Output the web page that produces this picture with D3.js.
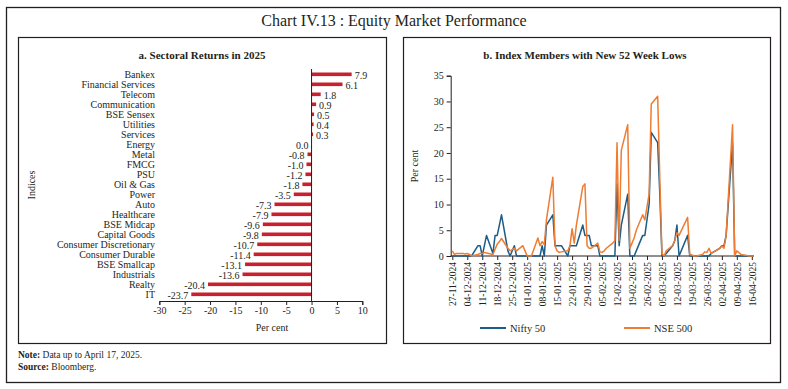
<!DOCTYPE html>
<html>
<head>
<meta charset="utf-8">
<script src="https://cdn.jsdelivr.net/npm/d3@7"></script>
<style>
  body { margin: 0; background: #fff; }
  text { font-family: "Liberation Serif", "DejaVu Serif", serif; fill: #231f20; }
</style>
</head>
<body>
<svg id="chart" width="788" height="389"></svg>
<script>
// panel a : sectoral returns in 2025 (per cent)
var sectors = ["Bankex", "Financial Services", "Telecom", "Communication", "BSE Sensex",
  "Utilities", "Services", "Energy", "Metal", "FMCG", "PSU", "Oil & Gas", "Power", "Auto",
  "Healthcare", "BSE Midcap", "Capital Goods", "Consumer Discretionary", "Consumer Durable",
  "BSE Smallcap", "Industrials", "Realty", "IT"];
var returns2025 = [7.9, 6.1, 1.8, 0.9, 0.5, 0.4, 0.3, 0.0, -0.8, -1.0, -1.2, -1.8, -3.5, -7.3,
  -7.9, -9.6, -9.8, -10.7, -11.4, -13.1, -13.6, -20.4, -23.7];
var returnTicks = [-30, -25, -20, -15, -10, -5, 0, 5, 10];

// panel b : index members with new 52 week lows (per cent)
var lowDates = ["27-11-2024", "28-11-2024", "29-11-2024", "02-12-2024", "03-12-2024", "04-12-2024",
  "05-12-2024", "06-12-2024", "09-12-2024", "10-12-2024", "11-12-2024", "12-12-2024", "13-12-2024",
  "16-12-2024", "17-12-2024", "18-12-2024", "19-12-2024", "20-12-2024", "23-12-2024", "24-12-2024",
  "26-12-2024", "27-12-2024", "30-12-2024", "31-12-2024", "01-01-2025", "02-01-2025", "03-01-2025",
  "06-01-2025", "07-01-2025", "08-01-2025", "09-01-2025", "10-01-2025", "13-01-2025", "14-01-2025",
  "15-01-2025", "16-01-2025", "17-01-2025", "20-01-2025", "21-01-2025", "22-01-2025", "23-01-2025",
  "24-01-2025", "27-01-2025", "28-01-2025", "29-01-2025", "30-01-2025", "31-01-2025", "03-02-2025",
  "04-02-2025", "05-02-2025", "06-02-2025", "07-02-2025", "10-02-2025", "11-02-2025", "12-02-2025",
  "13-02-2025", "14-02-2025", "17-02-2025", "18-02-2025", "19-02-2025", "20-02-2025", "21-02-2025",
  "24-02-2025", "25-02-2025", "27-02-2025", "28-02-2025", "03-03-2025", "04-03-2025", "05-03-2025",
  "06-03-2025", "07-03-2025", "10-03-2025", "11-03-2025", "12-03-2025", "13-03-2025", "17-03-2025",
  "18-03-2025", "19-03-2025", "20-03-2025", "21-03-2025", "24-03-2025", "25-03-2025", "26-03-2025",
  "27-03-2025", "28-03-2025", "01-04-2025", "02-04-2025", "03-04-2025", "04-04-2025", "07-04-2025",
  "08-04-2025", "09-04-2025", "11-04-2025", "15-04-2025", "16-04-2025", "17-04-2025"];
var nifty50 = [0, 0, 0, 0, 0, 0,
  0, 0, 2, 2, 0, 2, 4,
  0.5, 4, 4, 6, 8, 1, 0,
  2, 0, 0, 0, 0, 0, 0,
  0, 0, 2, 0, 6, 8, 2,
  2, 2, 2, 0, 2, 2, 2,
  2, 6, 4, 4, 4, 2, 2,
  0, 0, 0, 0, 0, 0, 14,
  2, 6, 12, 0, 0, 0, 1,
  4, 4, 10, 24, 22, 12, 0,
  0, 0.5, 2, 3, 6, 0, 4,
  0, 0, 0, 0, 0, 0, 0,
  0, 0.5, 1.5, 2, 2, 4, 22,
  0, 0, 0, 0, 0, 0];
var nse500 = [1, 0.3, 0.5, 0.5, 0.4, 0.5,
  0.3, 0, 0.3, 0.5, 0.5, 0.7, 0.6,
  0.3, 1.3, 2.3, 2.8, 3.4, 1.5, 1,
  1.5, 1, 2, 1, 0, 0, 0,
  3.5, 2, 2.8, 2.2, 7, 15.3, 2,
  1, 0.7, 0.8, 1, 2, 5.3, 2.5,
  6, 13.5, 14, 2, 1.5, 1.5, 2.5,
  0.8, 0.7, 1, 1.5, 2.5, 3, 22,
  3, 20.5, 25.5, 1.5, 2.5, 3.5, 5,
  8, 7, 12, 29.5, 31, 15, 0.5,
  0, 1, 2, 3, 4.5, 4, 7.5,
  0.3, 0.2, 0, 0, 0.3, 0.8, 0.7,
  1.5, 0.5, 1.5, 2, 1.5, 4, 25.5,
  0, 1, 0.3, 0, 0, 0];
var dateTicks = ["27-11-2024", "04-12-2024", "11-12-2024", "18-12-2024", "25-12-2024",
  "01-01-2025", "08-01-2025", "15-01-2025", "22-01-2025", "29-01-2025", "05-02-2025",
  "12-02-2025", "19-02-2025", "26-02-2025", "05-03-2025", "12-03-2025", "19-03-2025",
  "26-03-2025", "02-04-2025", "09-04-2025", "16-04-2025"];
var lowTicks = [0, 5, 10, 15, 20, 25, 30, 35];

var ink = "#231f20";
var svg = d3.select("#chart");
// plain hyphen for negatives, as in the source
var fmt1 = v => d3.format(".1f")(v).replace("\u2212", "-");
var fmt0 = v => d3.format("d")(v).replace("\u2212", "-");

// frames and titles
svg.append("rect").attr("x", 6.5).attr("y", 7.5).attr("width", 774).attr("height", 375)
  .attr("fill", "none").attr("stroke", ink).attr("stroke-width", 1.3);
svg.append("text").attr("x", 394).attr("y", 26).attr("text-anchor", "middle")
  .style("font-size", "16px").text("Chart IV.13 : Equity Market Performance");
svg.append("rect").attr("x", 18.5).attr("y", 37.5).attr("width", 368).attr("height", 306)
  .attr("fill", "none").attr("stroke", ink).attr("stroke-width", 1.2);
svg.append("rect").attr("x", 403.5).attr("y", 37.5).attr("width", 367).attr("height", 306)
  .attr("fill", "none").attr("stroke", ink).attr("stroke-width", 1.2);

svg.append("text").attr("x", 202).attr("y", 59).attr("text-anchor", "middle")
  .style("font-size", "11px").style("font-weight", "bold").text("a. Sectoral Returns in 2025");
svg.append("text").attr("x", 585).attr("y", 59).attr("text-anchor", "middle")
  .style("font-size", "11px").style("font-weight", "bold").text("b. Index Members with New 52 Week Lows");

// ---- panel a ----
var xL = d3.scaleLinear().domain([-30, 10]).range([159.3, 362.3]);
var yL = d3.scaleBand().domain(sectors).range([69.3, 299.3]);
var barData = sectors.map(function (s, i) { return { name: s, v: returns2025[i] }; });

svg.append("g").selectAll("rect").data(barData).enter().append("rect")
  .attr("x", d => xL(Math.min(0, d.v)))
  .attr("y", d => yL(d.name) + yL.bandwidth() / 2 - 1.8)
  .attr("width", d => Math.abs(xL(d.v) - xL(0)))
  .attr("height", 3.6)
  .attr("fill", "#c8202f");

svg.append("line").attr("x1", xL(0)).attr("x2", xL(0)).attr("y1", 69).attr("y2", 301)
  .attr("stroke", ink).attr("stroke-width", 1);

svg.append("g").selectAll("text").data(barData).enter().append("text")
  .attr("x", 155)
  .attr("y", d => yL(d.name) + yL.bandwidth() / 2)
  .attr("dy", "0.35em").attr("text-anchor", "end")
  .style("font-size", "10px").text(d => d.name);

svg.append("g").selectAll("text").data(barData).enter().append("text")
  .attr("x", d => d.v > 0 ? xL(d.v) + 3 : xL(d.v) - 3)
  .attr("y", d => yL(d.name) + yL.bandwidth() / 2)
  .attr("dy", "0.45em")
  .attr("text-anchor", d => d.v > 0 ? "start" : "end")
  .style("font-size", "10px").text(d => fmt1(d.v));

var axL = svg.append("g").attr("transform", "translate(0,301)")
  .call(d3.axisBottom(xL).tickValues(returnTicks).tickSize(4).tickPadding(2).tickFormat(fmt0));
axL.selectAll("path,line").attr("stroke", ink);
axL.selectAll("text").style("font-size", "10px").style("font-family", "Liberation Serif, serif").attr("fill", ink);

svg.append("text").attr("x", 272).attr("y", 331).attr("text-anchor", "middle")
  .style("font-size", "10px").text("Per cent");
svg.append("text").attr("transform", "translate(35,185) rotate(-90)").attr("text-anchor", "middle")
  .style("font-size", "10px").text("Indices");

// ---- panel b ----
var parse = d3.timeParse("%d-%m-%Y");
var xR = d3.scaleTime().domain([parse("27-11-2024"), parse("16-04-2025")]).range([452.3, 751.8]);
var yR = d3.scaleLinear().domain([0, 35]).range([256, 75.7]);

var axY = svg.append("g").attr("transform", "translate(450.7,0)")
  .call(d3.axisLeft(yR).tickValues(lowTicks).tickSize(4).tickPadding(3));
axY.selectAll("path,line").attr("stroke", ink);
axY.selectAll("text").style("font-size", "10px").style("font-family", "Liberation Serif, serif").attr("fill", ink);

var axX = svg.append("g").attr("transform", "translate(0,256)")
  .call(d3.axisBottom(xR).tickValues(dateTicks.map(parse)).tickSize(4)
    .tickFormat(d3.timeFormat("%d-%m-%Y")));
axX.select(".domain").remove();
axX.selectAll("line").attr("stroke", ink);
axX.selectAll("text").style("font-size", "9.5px").style("font-family", "Liberation Serif, serif").attr("fill", ink)
  .attr("transform", "rotate(-90)").attr("text-anchor", "end")
  .attr("x", -6).attr("y", 0).attr("dy", "0.35em");
svg.append("line").attr("x1", 450.7).attr("x2", 753).attr("y1", 256).attr("y2", 256)
  .attr("stroke", ink).attr("stroke-width", 1);

svg.append("text").attr("transform", "translate(418,166) rotate(-90)").attr("text-anchor", "middle")
  .style("font-size", "10px").text("Per cent");

var series = [
  { name: "Nifty 50", values: nifty50, color: "#1d5c86" },
  { name: "NSE 500", values: nse500, color: "#ee7c32" }
];
var line = d3.line().x(d => xR(d.date)).y(d => yR(d.v));

series.forEach(function (s) {
  var pts = lowDates.map(function (d, i) { return { date: parse(d), v: s.values[i] }; });
  svg.append("path").datum(pts).attr("d", line)
    .attr("fill", "none").attr("stroke", s.color).attr("stroke-width", 1.5)
    .attr("stroke-linejoin", "round");
});

// legend
var legX = [480, 624];
series.forEach(function (s, i) {
  svg.append("line").attr("x1", legX[i]).attr("x2", legX[i] + 26).attr("y1", 328).attr("y2", 328)
    .attr("stroke", s.color).attr("stroke-width", 2);
  svg.append("text").attr("x", legX[i] + 30).attr("y", 328).attr("dy", "0.35em")
    .style("font-size", "10.5px").text(s.name);
});

// notes
var note = svg.append("text").attr("x", 18).attr("y", 358).style("font-size", "9.5px");
note.append("tspan").style("font-weight", "bold").text("Note:");
note.append("tspan").text(" Data up to April 17, 2025.");
var src = svg.append("text").attr("x", 18).attr("y", 370).style("font-size", "9.5px");
src.append("tspan").style("font-weight", "bold").text("Source:");
src.append("tspan").text(" Bloomberg.");
</script>
</body>
</html>
